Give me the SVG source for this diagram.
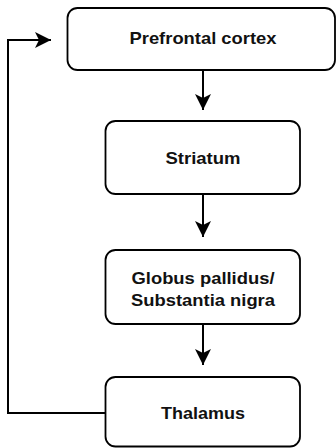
<svg xmlns="http://www.w3.org/2000/svg" width="336" height="448" viewBox="0 0 336 448">
  <defs>
    <marker id="arrow" markerUnits="userSpaceOnUse" markerWidth="18" markerHeight="18" refX="16" refY="8" orient="auto">
      <path d="M0,0 L16,8 L0,16 L4,8 Z" fill="#000"/>
    </marker>
    <style>
      .box { fill: #fff; stroke: #000; stroke-width: 1.8; }
      .lbl { font-family: "Liberation Sans", Arial, sans-serif; font-weight: bold; font-size: 17px; fill: #111; text-anchor: middle; }
      .edge { fill: none; stroke: #000; stroke-width: 2; marker-end: url(#arrow); }
    </style>
  </defs>
  <rect width="336" height="448" fill="#fff"/>
  <g id="connectors">
    <path class="edge" d="M203,70 V110"/>
    <path class="edge" d="M203,194 V237"/>
    <path class="edge" d="M203,324 V365"/>
    <path class="edge" d="M105,413 H8 V40 H51"/>
  </g>
  <g id="prefrontal">
    <rect class="box" x="67.5" y="8" width="267.5" height="62" rx="10"/>
    <text class="lbl" x="203" y="43.5" textLength="147" lengthAdjust="spacingAndGlyphs">Prefrontal cortex</text>
  </g>
  <g id="striatum">
    <rect class="box" x="105.5" y="121" width="194.5" height="73" rx="10"/>
    <text class="lbl" x="203" y="163.5" textLength="75" lengthAdjust="spacingAndGlyphs">Striatum</text>
  </g>
  <g id="globus">
    <rect class="box" x="105.5" y="250" width="194.5" height="74" rx="10"/>
    <text class="lbl" x="203" y="283.5" textLength="143" lengthAdjust="spacingAndGlyphs">Globus pallidus/</text>
    <text class="lbl" x="203" y="305.5" textLength="144" lengthAdjust="spacingAndGlyphs">Substantia nigra</text>
  </g>
  <g id="thalamus">
    <rect class="box" x="105.5" y="377" width="194.5" height="69.5" rx="10"/>
    <text class="lbl" x="203" y="418.5" textLength="84" lengthAdjust="spacingAndGlyphs">Thalamus</text>
  </g>
</svg>
